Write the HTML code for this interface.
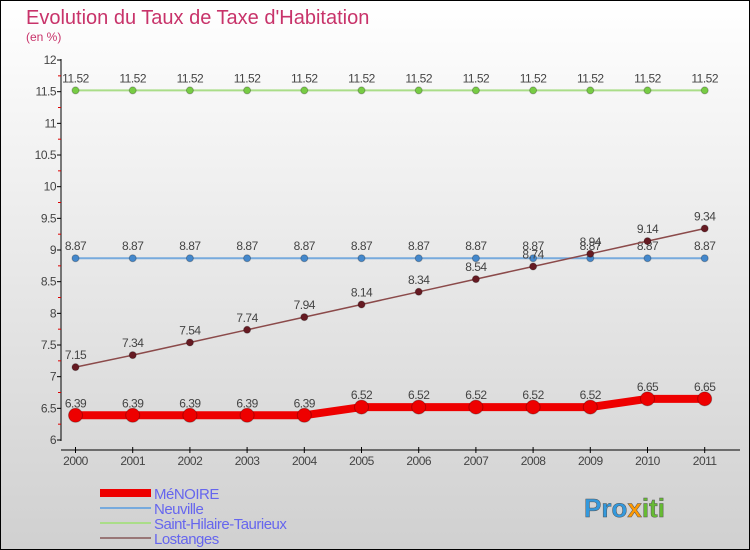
<!DOCTYPE html>
<html><head><meta charset="utf-8">
<style>
body{margin:0;}
#wrap{width:750px;height:550px;position:relative;overflow:hidden;font-family:"Liberation Sans","DejaVu Sans",sans-serif;}
</style></head>
<body>
<div id="wrap">
<svg id="chart" width="750" height="550">
<defs><linearGradient id="bg" x1="0" y1="0" x2="0" y2="1"><stop offset="0" stop-color="#ffffff"/><stop offset="1" stop-color="#d0d0d0"/></linearGradient></defs>
<rect x="0.5" y="0.5" width="749" height="549" fill="url(#bg)" stroke="#000"/>
<text x="26" y="24" font-size="20" fill="#c8336a">Evolution du Taux de Taxe d'Habitation</text>
<text x="26" y="41" font-size="12" fill="#c8336a">(en %)</text>
<g id="axes"></g><g id="series"></g><g id="legend"></g>
<text x="584" y="517" font-size="26" font-weight="bold" fill="#3399dd" stroke="#555" stroke-width="0.5">Pro<tspan fill="#ff9900">x</tspan><tspan fill="#66bb33">iti</tspan></text>
</svg>
</div>
<script>
const years=["2000","2001","2002","2003","2004","2005","2006","2007","2008","2009","2010","2011"];
const yTicks=[6,6.5,7,7.5,8,8.5,9,9.5,10,10.5,11,11.5,12];
const menoire=[6.39,6.39,6.39,6.39,6.39,6.52,6.52,6.52,6.52,6.52,6.65,6.65];
const neuville=[8.87,8.87,8.87,8.87,8.87,8.87,8.87,8.87,8.87,8.87,8.87,8.87];
const sainthilaire=[11.52,11.52,11.52,11.52,11.52,11.52,11.52,11.52,11.52,11.52,11.52,11.52];
const lostanges=[7.15,7.34,7.54,7.74,7.94,8.14,8.34,8.54,8.74,8.94,9.14,9.34];
const NS="http://www.w3.org/2000/svg";
function X(i){return 75.5+i*57.2;}
function Y(v){return 440-(v-6)*63.33;}
function mk(t,a,p){const e=document.createElementNS(NS,t);for(const k in a)e.setAttribute(k,a[k]);p.appendChild(e);return e;}
const ax=document.getElementById('axes');
let l=mk('line',{x1:61,y1:59,x2:61,y2:441,stroke:'#000'},ax);


l=mk('line',{x1:61,y1:450,x2:740,y2:450,stroke:'#000'},ax);


yTicks.forEach(v=>{
  mk('line',{x1:57,y1:Y(v),x2:61,y2:Y(v),stroke:'#000'},ax);
  if(v<12) mk('line',{x1:58,y1:Y(v+0.25),x2:61,y2:Y(v+0.25),stroke:'#d00'},ax);
  const t=mk('text',{x:56,y:Y(v)+4,'font-size':12,fill:'#444','text-anchor':'end','letter-spacing':'-0.5'},ax);
  t.textContent=v;
  
  
});
years.forEach((y,i)=>{
  mk('line',{x1:X(i),y1:447,x2:X(i),y2:453,stroke:'#000'},ax);
  const t=mk('text',{x:X(i),y:465,'font-size':12,fill:'#444','text-anchor':'middle','letter-spacing':'-0.5'},ax);
  t.textContent=y;
  
  
});
const sg=document.getElementById('series');
function draw(vals,color,w,r,name,dot){
  const g=mk('g',{},sg);
  
  
  const p=mk('polyline',{points:vals.map((v,i)=>X(i)+','+Y(v)).join(' '),fill:'none',stroke:color,'stroke-width':w},g);
  
  
  vals.forEach((v,i)=>{
    const c=mk('circle',{cx:X(i),cy:Y(v),r:r,fill:dot,stroke:'rgba(0,0,0,0.25)','stroke-width':1},g);
    
    
    const t=mk('text',{x:X(i),y:Y(v)-8,'font-size':12,fill:'#444','text-anchor':'middle','letter-spacing':'-0.5'},g);
    t.textContent=v;
    
    
  });
}
draw(sainthilaire,'#aadd88',2,3.5,'saint-hilaire-taurieux','#77cc44');
draw(neuville,'#77aadd',2,3.5,'neuville','#4488cc');
draw(lostanges,'#8b4a4a',1.5,3.5,'lostanges','#661a22');
draw(menoire,'#ee0000',8,7,'menoire','#ee0000');
const lg=document.getElementById('legend');
const items=[["MéNOIRE","#ee0000",8],["Neuville","#77aadd",2],["Saint-Hilaire-Taurieux","#aadd88",2],["Lostanges","#997777",2]];
items.forEach((it,i)=>{
  const y=493+i*15;
  const ln=mk('line',{x1:100,y1:y,x2:151,y2:y,stroke:it[1],'stroke-width':it[2]},lg);
  
  
  const t=mk('text',{x:154,y:y+6,'font-size':15,fill:'#6666ee','letter-spacing':'-0.5'},lg);
  t.textContent=it[0];
  
  
});
</script>
</body></html>
